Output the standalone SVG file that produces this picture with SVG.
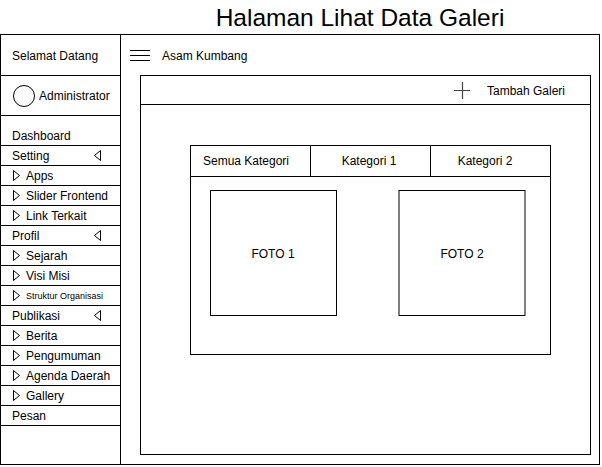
<svg xmlns="http://www.w3.org/2000/svg" width="602" height="467" viewBox="0 0 602 467">
<style>
text{font-family:"Liberation Sans",Arial,sans-serif;font-size:12px;fill:#000}
.b{fill:#fff;stroke:#000;stroke-width:1}
.l{stroke:#000;stroke-width:1;fill:none}
.tri{fill:none;stroke:#000;stroke-width:1}
.c{text-anchor:middle}
</style>
<rect width="602" height="467" fill="#fff"/>
<text x="360" y="26" class="c" style="font-size:24.5px">Halaman Lihat Data Galeri</text>
<g id="frame">
<rect class="b" x="0.5" y="34.5" width="599" height="430"/>
<line class="l" x1="120.5" y1="34.5" x2="120.5" y2="464.5"/>
</g>
<g id="sidebar">
<g id="welcome"><line class="l" x1="0.5" y1="75.5" x2="120.5" y2="75.5"/><text x="12" y="60">Selamat Datang</text></g>
<g id="admin"><circle class="l" cx="24" cy="96" r="10.5"/><text x="39" y="100">Administrator</text><line class="l" x1="0.5" y1="115.5" x2="120.5" y2="115.5"/></g>
<g id="dashboard"><text x="12" y="140">Dashboard</text><line class="l" x1="0.5" y1="145.5" x2="120.5" y2="145.5"/></g>
<g id="setting"><text x="12" y="160">Setting</text><path class="tri" d="M100.5,150.5 L94.5,155.5 L100.5,160.5 Z"/><line class="l" x1="0.5" y1="165.5" x2="120.5" y2="165.5"/></g>
<g id="apps"><path class="tri" d="M13.5,170.5 L19.5,175.5 L13.5,180.5 Z"/><text x="26" y="180">Apps</text><line class="l" x1="0.5" y1="185.5" x2="120.5" y2="185.5"/></g>
<g id="slider"><path class="tri" d="M13.5,190.5 L19.5,195.5 L13.5,200.5 Z"/><text x="26" y="200">Slider Frontend</text><line class="l" x1="0.5" y1="205.5" x2="120.5" y2="205.5"/></g>
<g id="link"><path class="tri" d="M13.5,210.5 L19.5,215.5 L13.5,220.5 Z"/><text x="26" y="220">Link Terkait</text><line class="l" x1="0.5" y1="225.5" x2="120.5" y2="225.5"/></g>
<g id="profil"><text x="12" y="240">Profil</text><path class="tri" d="M100.5,230.5 L94.5,235.5 L100.5,240.5 Z"/><line class="l" x1="0.5" y1="245.5" x2="120.5" y2="245.5"/></g>
<g id="sejarah"><path class="tri" d="M13.5,250.5 L19.5,255.5 L13.5,260.5 Z"/><text x="26" y="260">Sejarah</text><line class="l" x1="0.5" y1="265.5" x2="120.5" y2="265.5"/></g>
<g id="visi"><path class="tri" d="M13.5,270.5 L19.5,275.5 L13.5,280.5 Z"/><text x="26" y="280">Visi Misi</text><line class="l" x1="0.5" y1="285.5" x2="120.5" y2="285.5"/></g>
<g id="struktur"><path class="tri" d="M13.5,290.5 L19.5,295.5 L13.5,300.5 Z"/><text x="26" y="299" style="font-size:9px">Struktur Organisasi</text><line class="l" x1="0.5" y1="305.5" x2="120.5" y2="305.5"/></g>
<g id="publikasi"><text x="12" y="320">Publikasi</text><path class="tri" d="M100.5,310.5 L94.5,315.5 L100.5,320.5 Z"/><line class="l" x1="0.5" y1="325.5" x2="120.5" y2="325.5"/></g>
<g id="berita"><path class="tri" d="M13.5,330.5 L19.5,335.5 L13.5,340.5 Z"/><text x="26" y="340">Berita</text><line class="l" x1="0.5" y1="345.5" x2="120.5" y2="345.5"/></g>
<g id="pengumuman"><path class="tri" d="M13.5,350.5 L19.5,355.5 L13.5,360.5 Z"/><text x="26" y="360">Pengumuman</text><line class="l" x1="0.5" y1="365.5" x2="120.5" y2="365.5"/></g>
<g id="agenda"><path class="tri" d="M13.5,370.5 L19.5,375.5 L13.5,380.5 Z"/><text x="26" y="380">Agenda Daerah</text><line class="l" x1="0.5" y1="385.5" x2="120.5" y2="385.5"/></g>
<g id="gallery"><path class="tri" d="M13.5,390.5 L19.5,395.5 L13.5,400.5 Z"/><text x="26" y="400">Gallery</text><line class="l" x1="0.5" y1="405.5" x2="120.5" y2="405.5"/></g>
<g id="pesan"><text x="12" y="420">Pesan</text><line class="l" x1="0.5" y1="425.5" x2="120.5" y2="425.5"/></g>
</g>
<g id="topbar">
<path class="l" d="M130,50.5 H150 M130,55.5 H150 M130,60.5 H150" stroke="#333"/>
<text x="162" y="60">Asam Kumbang</text>
</g>
<g id="content">
<rect class="b" x="140.5" y="75.5" width="450" height="379"/>
<line class="l" x1="140.5" y1="104.5" x2="590.5" y2="104.5"/>
<path d="M454,90.5 H470 M462.5,82 V99" stroke="#444" stroke-width="1.2" fill="none"/>
<text x="487" y="95">Tambah Galeri</text>
</g>
<g id="gallery-box">
<rect class="b" x="190.5" y="145.5" width="360" height="209" stroke="#333"/>
<line class="l" x1="190.5" y1="176.5" x2="550.5" y2="176.5"/>
<line class="l" x1="310.5" y1="145.5" x2="310.5" y2="176.5"/>
<line class="l" x1="430.5" y1="145.5" x2="430.5" y2="176.5"/>
<text x="246" y="165" class="c">Semua Kategori</text>
<text x="369" y="165" class="c">Kategori 1</text>
<text x="485" y="165" class="c">Kategori 2</text>
</g>
<g id="foto1"><rect class="b" x="210.5" y="190.5" width="126" height="125"/><text x="273" y="258" class="c">FOTO 1</text></g>
<g id="foto2"><rect class="b" x="399" y="190.5" width="126" height="125" stroke="#555" stroke-width="1.2"/><text x="462" y="258" class="c">FOTO 2</text></g>
</svg>
